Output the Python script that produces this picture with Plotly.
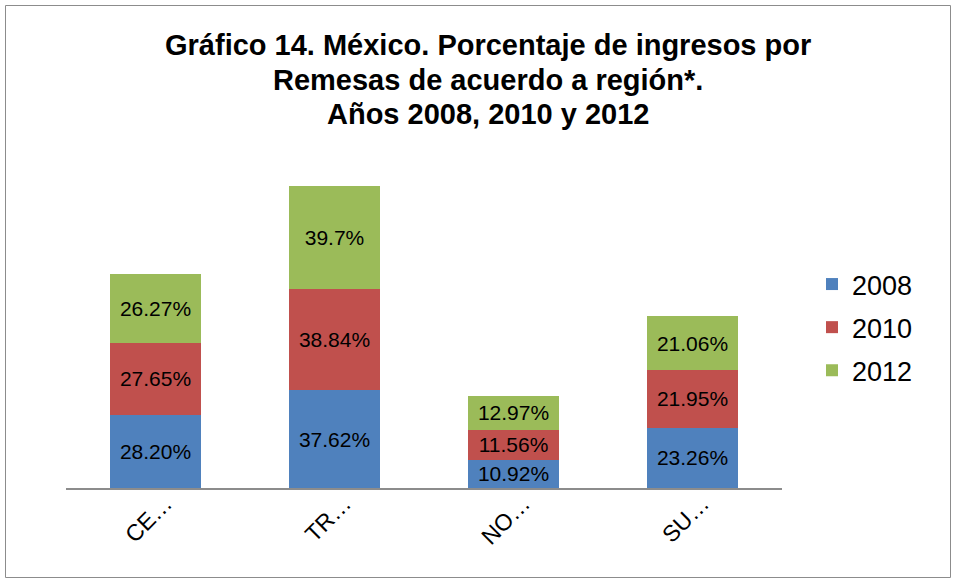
import plotly.graph_objects as go

categories = ["CE…", "TR…", "NO…", "SU…"]
years = ["2008", "2010", "2012"]
v2008 = [28.20, 37.62, 10.92, 23.26]
v2010 = [27.65, 38.84, 11.56, 21.95]
v2012 = [26.27, 39.7, 12.97, 21.06]
labels2008 = ["28.20%", "37.62%", "10.92%", "23.26%"]
labels2010 = ["27.65%", "38.84%", "11.56%", "21.95%"]
labels2012 = ["26.27%", "39.7%", "12.97%", "21.06%"]
colors = ["#4F81BD", "#C0504D", "#9BBB59"]
title_lines = ["Gráfico 14. México. Porcentaje de ingresos por",
               "Remesas de acuerdo a región*.",
               "Años 2008, 2010 y 2012"]

W, H = 956, 579
L, R, T, B = 66, 174, 124, 91
FONT = "Liberation Sans, Arial, sans-serif"

fig = go.Figure()
for name, vals, labs, col in zip(years, [v2008, v2010, v2012],
                                 [labels2008, labels2010, labels2012], colors):
    fig.add_trace(go.Bar(
        x=categories, y=vals, name=name, text=labs, legendgroup=name,
        textposition="inside", insidetextanchor="middle", textangle=0,
        constraintext="none",
        textfont=dict(family=FONT, size=21, color="black"),
        marker=dict(color=col, line=dict(width=0)),
        hoverinfo="skip",
    ))

pw, ph = W - L - R, H - T - B
def px_x(x): return (x - L) / pw
def px_y(y): return (H - B - y) / ph

title_centers = [45, 80, 114]
annotations = [dict(
    text=line, xref="paper", yref="paper",
    x=px_x(488), xanchor="center", y=px_y(cy), yanchor="middle",
    showarrow=False, align="center",
    font=dict(family=FONT, size=29, color="black", weight="bold"),
) for line, cy in zip(title_lines, title_centers)]

fig.update_layout(
    width=W, height=H,
    barmode="stack", bargap=0.49,
    margin=dict(l=L, r=R, t=T, b=B, autoexpand=False),
    paper_bgcolor="white", plot_bgcolor="white",
    font=dict(family=FONT, color="black"),
    xaxis=dict(
        showline=True, linecolor="#8C8C8C", linewidth=2,
        tickangle=-45, ticks="", tickfont=dict(size=23, color="black"),
        ticklabelshift=10, ticklabelstandoff=-9,
        showgrid=False, zeroline=False,
    ),
    yaxis=dict(range=[0, 140], visible=False, showgrid=False, zeroline=False),
    legend=dict(
        x=px_x(812), xanchor="left", y=px_y(260), yanchor="top",
        font=dict(size=27, color="black"), tracegroupgap=5,
        itemwidth=30, traceorder="grouped", bgcolor="rgba(0,0,0,0)",
    ),
    showlegend=True,
    annotations=annotations,
    shapes=[dict(
        type="rect", xref="paper", yref="paper",
        x0=px_x(5.5), x1=px_x(950.5), y0=px_y(577.5), y1=px_y(5.5),
        line=dict(color="#8C8C8C", width=1), fillcolor="rgba(0,0,0,0)",
        layer="below",
    )],
)

fig.write_html("out.html", config={"displayModeBar": False},
               post_script="document.body.style.margin='0';")
